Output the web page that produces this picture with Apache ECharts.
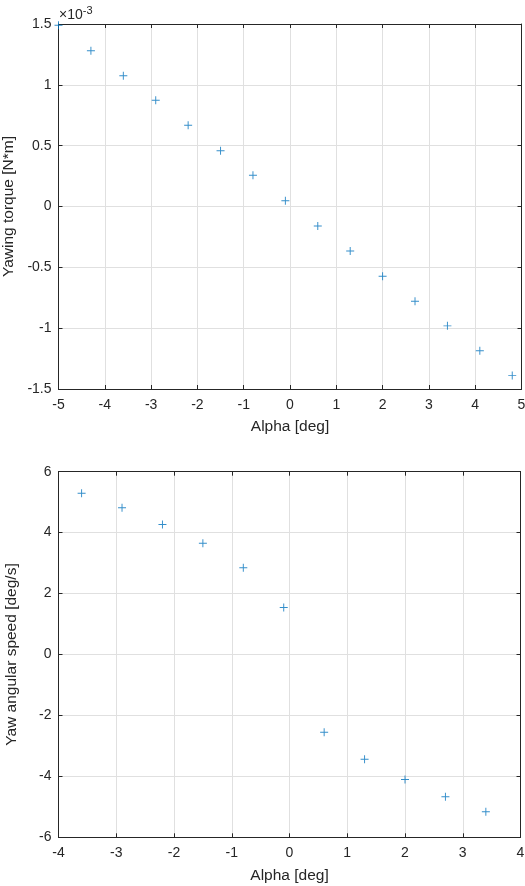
<!DOCTYPE html>
<html>
<head>
<meta charset="utf-8">
<script src="https://cdn.jsdelivr.net/npm/echarts@6/dist/echarts.min.js"></script>
<style>
  html, body { margin: 0; padding: 0; background: #fff; }
  #main { width: 525px; height: 886px; }
</style>
</head>
<body>
<div id="main"></div>
<script>
// 上图：偏航力矩（单位 1e-3 N*m）
const alphaTorque = [-5, -4.3, -3.6, -2.9, -2.2, -1.5, -0.8, -0.1, 0.6, 1.3, 2.0, 2.7, 3.4, 4.1, 4.8];
const torque = [1.49, 1.28, 1.075, 0.873, 0.667, 0.459, 0.257, 0.048, -0.16, -0.365, -0.573, -0.778, -0.981, -1.185, -1.39];

// 下图：偏航角速度
const alphaSpeed = [-3.6, -2.9, -2.2, -1.5, -0.8, -0.1, 0.6, 1.3, 2.0, 2.7, 3.4];
const speed = [5.29, 4.82, 4.27, 3.65, 2.85, 1.54, -2.55, -3.44, -4.10, -4.67, -5.16];

const chart = echarts.init(document.getElementById("main"));

const FONT = "Liberation Sans, Arial, sans-serif";
const AXIS = "#262626";
const GRID = "#e0e0e0";
const BLUE = "#0072BD";
// 加号标记
const PLUS = "path://M4.4,0h1.2v4.4h4.4v1.2h-4.4v4.4h-1.2v-4.4h-4.4v-1.2h4.4z";

function mainX(gridIndex, min, max) {
  return {
    gridIndex, type: "value", min, max, interval: 1,
    name: "Alpha [deg]", nameLocation: "middle", nameGap: 30,
    nameTextStyle: { color: AXIS, fontFamily: FONT, fontSize: 15.5 },
    axisLine: { onZero: false, lineStyle: { color: AXIS, width: 1 } },
    axisTick: { inside: true, length: 4, lineStyle: { color: AXIS } },
    axisLabel: { color: AXIS, fontFamily: FONT, fontSize: 14, margin: 9 },
    splitLine: { show: true, lineStyle: { color: GRID } },
  };
}
function mirrorX(gridIndex, min, max) {
  return {
    gridIndex, type: "value", min, max, interval: 1, position: "top",
    axisLine: { onZero: false, lineStyle: { color: AXIS, width: 1 } },
    axisTick: { inside: true, length: 4, lineStyle: { color: AXIS } },
    axisLabel: { show: false },
    splitLine: { show: false },
  };
}
function mainY(gridIndex, min, max, interval, name) {
  return {
    gridIndex, type: "value", min, max, interval,
    name, nameLocation: "middle", nameGap: 38.5,
    nameTextStyle: { color: AXIS, fontFamily: FONT, fontSize: 15.5 },
    axisLine: { show: true, onZero: false, lineStyle: { color: AXIS, width: 1 } },
    axisTick: { show: true, inside: true, length: 4, lineStyle: { color: AXIS } },
    axisLabel: { color: AXIS, fontFamily: FONT, fontSize: 14, margin: 7 },
    splitLine: { show: true, lineStyle: { color: GRID } },
  };
}
function mirrorY(gridIndex, min, max, interval) {
  return {
    gridIndex, type: "value", min, max, interval, position: "right",
    axisLine: { show: true, onZero: false, lineStyle: { color: AXIS, width: 1 } },
    axisTick: { show: true, inside: true, length: 4, lineStyle: { color: AXIS } },
    axisLabel: { show: false },
    splitLine: { show: false },
  };
}

const option = {
  backgroundColor: "#fff",
  animation: false,
  grid: [
    { left: 58.5, top: 24, width: 463, height: 365, outerBoundsMode: "none", containLabel: false },
    { left: 58.5, top: 471.7, width: 462, height: 365.6, outerBoundsMode: "none", containLabel: false },
  ],
  xAxis: [mainX(0, -5, 5), mirrorX(0, -5, 5), mainX(1, -4, 4), mirrorX(1, -4, 4)],
  yAxis: [
    mainY(0, -1.5, 1.5, 0.5, "Yawing torque [N*m]"),
    mirrorY(0, -1.5, 1.5, 0.5),
    mainY(1, -6, 6, 2, "Yaw angular speed [deg/s]"),
    mirrorY(1, -6, 6, 2),
  ],
  graphic: [
    {
      type: "text", left: 59, top: 5,
      style: {
        text: "×10{sup|-3}",
        fill: AXIS, font: "14px " + FONT,
        rich: { sup: { fontSize: 11, fontFamily: FONT, fill: AXIS, padding: [0, 0, 9, 0] } },
      },
    },
  ],
  series: [
    {
      type: "scatter", xAxisIndex: 0, yAxisIndex: 0, clip: false,
      data: alphaTorque.map((a, i) => [a, torque[i]]),
      symbol: PLUS, symbolSize: 8,
      itemStyle: { color: BLUE },
    },
    {
      type: "scatter", xAxisIndex: 2, yAxisIndex: 2, clip: false,
      data: alphaSpeed.map((a, i) => [a, speed[i]]),
      symbol: PLUS, symbolSize: 8,
      itemStyle: { color: BLUE },
    },
  ],
};

chart.setOption(option);
</script>
</body>
</html>
